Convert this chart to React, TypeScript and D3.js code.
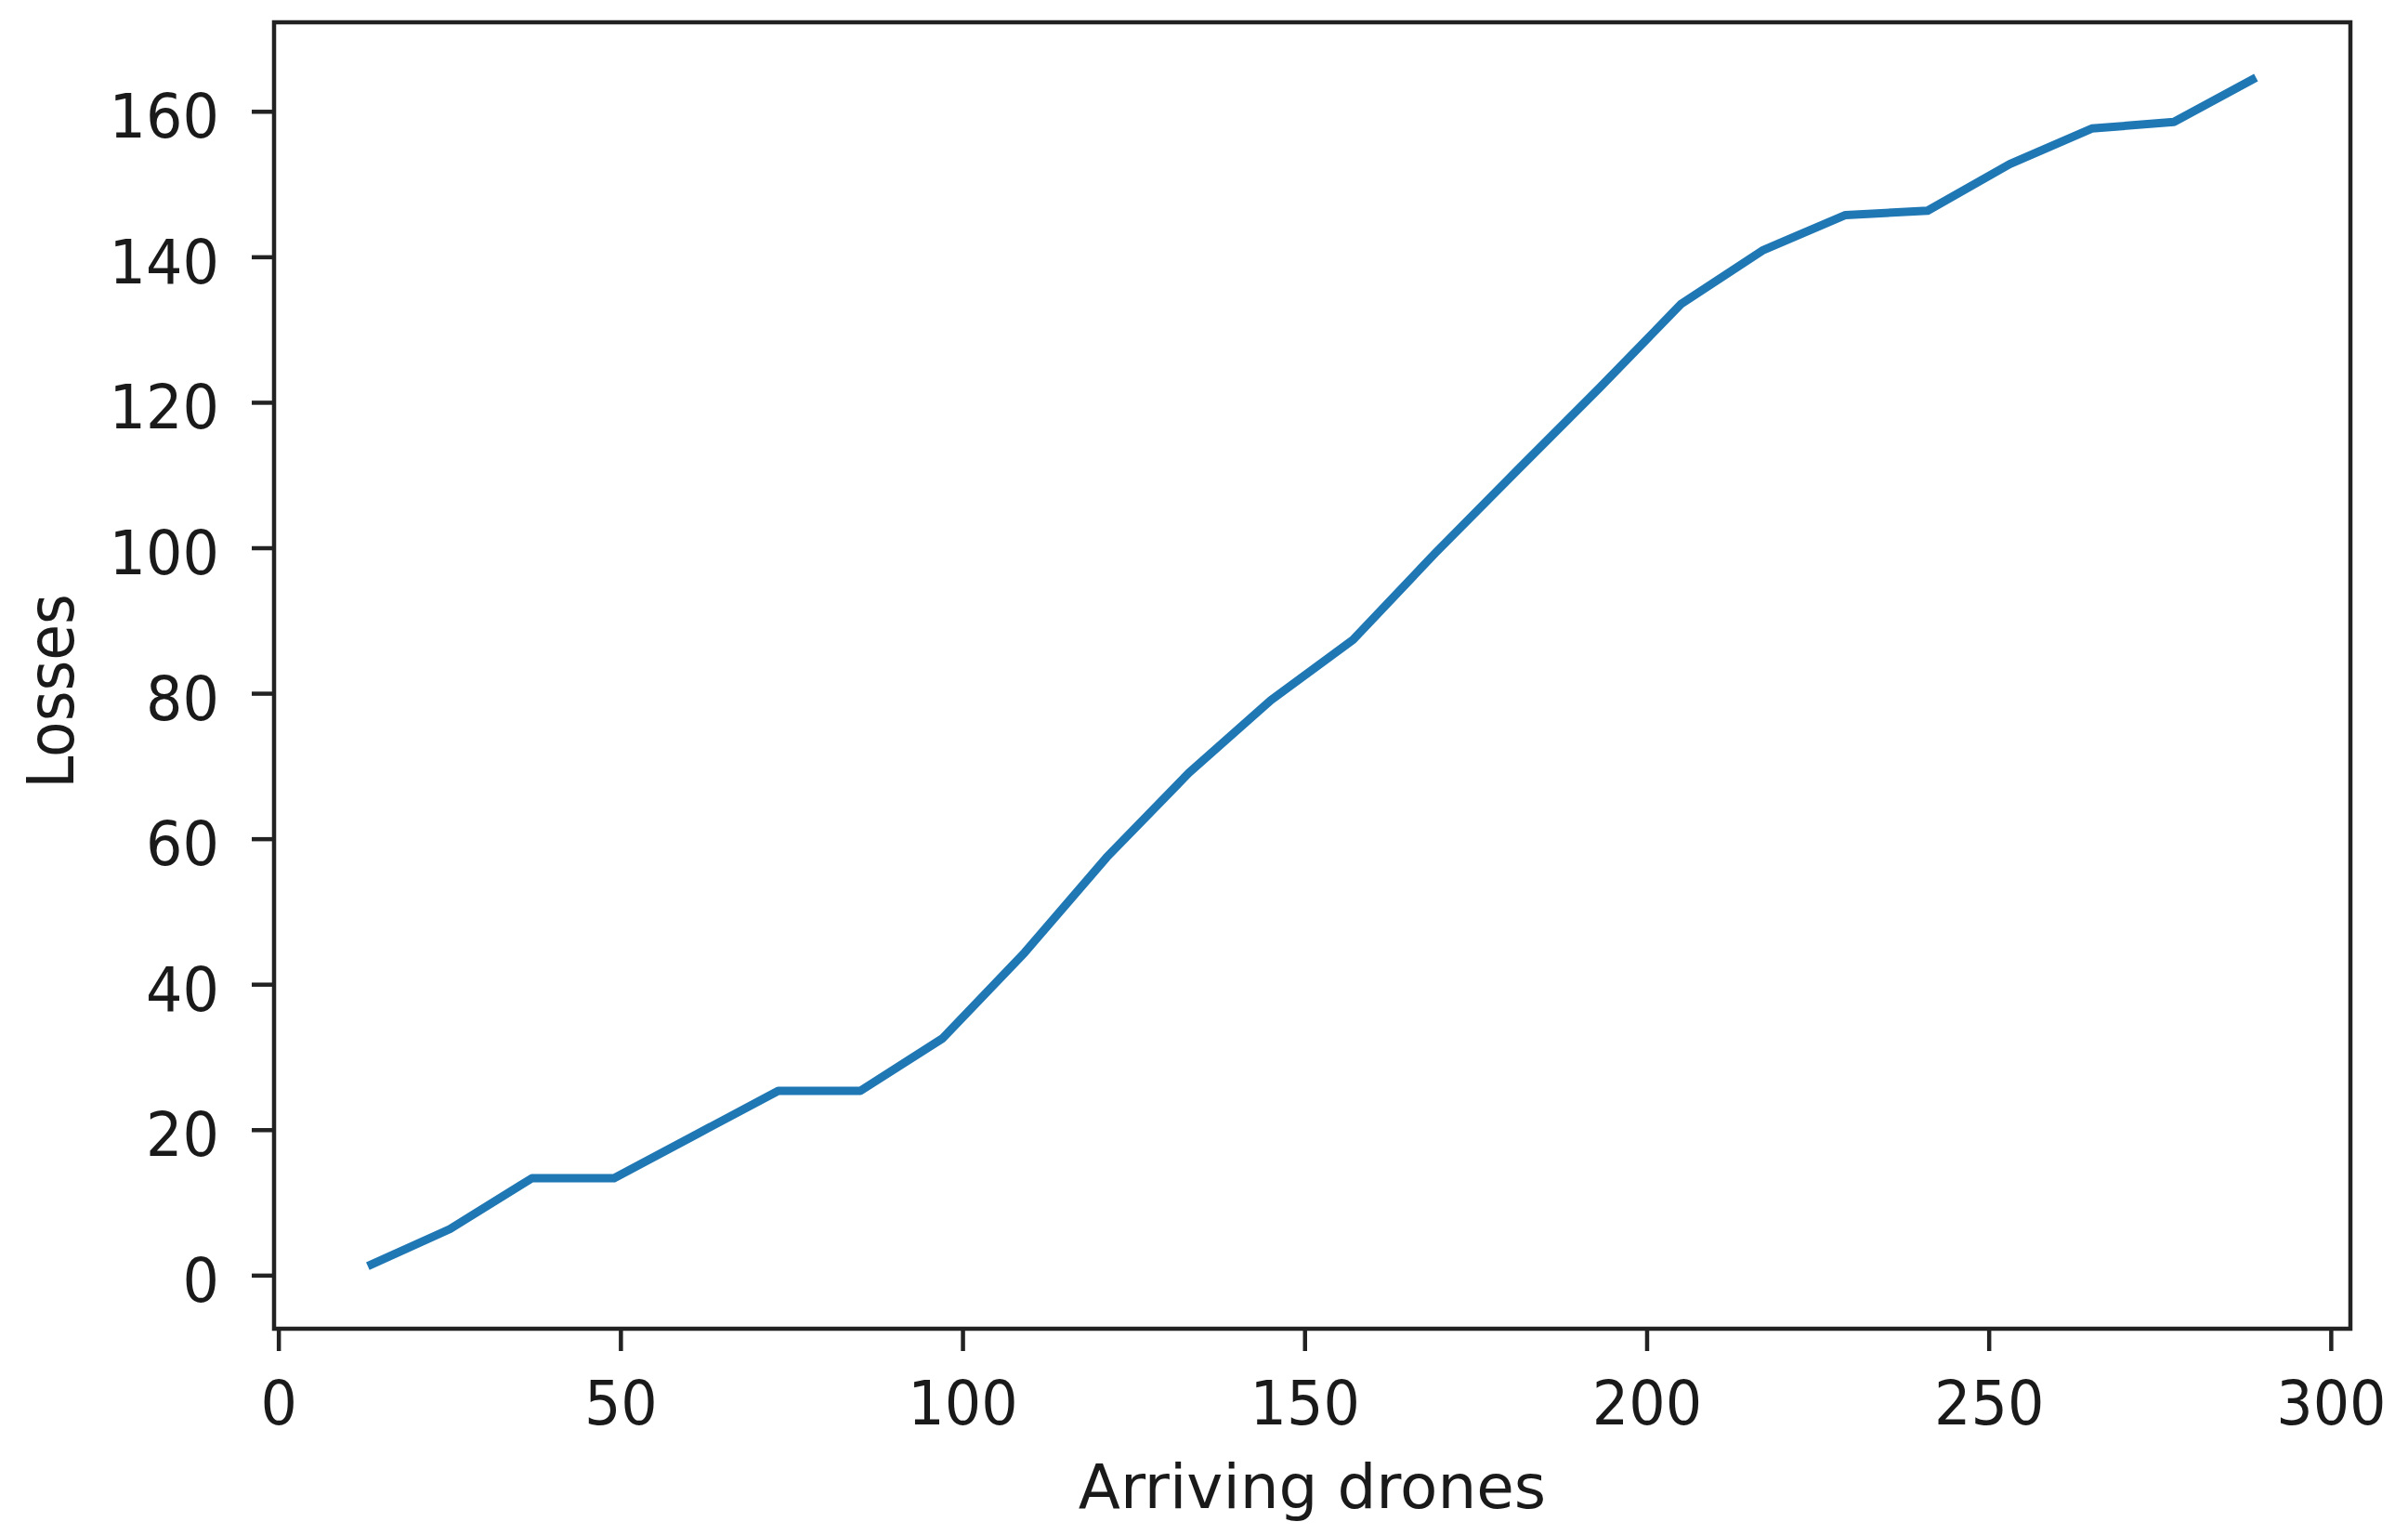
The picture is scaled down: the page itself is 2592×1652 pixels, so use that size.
import React from "react";
import * as d3 from "d3";

// Data
const arrivingDrones = [13, 25, 37, 49, 61, 73, 85, 97, 109, 121, 133, 145, 157, 169, 181, 193, 205, 217, 229, 241, 253, 265, 277, 289];
const losses = [1.3, 6.4, 13.4, 13.4, 19.4, 25.4, 25.4, 32.6, 44.4, 57.5, 69.1, 79.1, 87.4, 99.3, 110.7, 122, 133.6, 141, 145.8, 146.4, 152.8, 157.7, 158.6, 164.7];
const xTicks = [0, 50, 100, 150, 200, 250, 300];
const yTicks = [0, 20, 40, 60, 80, 100, 120, 140, 160];
const xDomain = [-0.7, 302.8];
const yDomain = [-7.3, 172.3];
const xLabel = "Arriving drones";
const yLabel = "Losses";

const W = 2592;
const H = 1652;
const plot = { left: 295, right: 2530, top: 24, bottom: 1430 };
const FONT = "'DejaVu Sans', sans-serif";
const TEXT = "#1a1a1a";
const FRAME = "#222222";
const LINE = "#1f77b4";

export default function App() {
  const x = d3.scaleLinear().domain(xDomain).range([plot.left, plot.right]);
  const y = d3.scaleLinear().domain(yDomain).range([plot.bottom, plot.top]);
  const pts = arrivingDrones.map((d, i) => [d, losses[i]] as [number, number]);
  const path = d3
    .line<[number, number]>()
    .x((d) => x(d[0]))
    .y((d) => y(d[1]))(pts) as string;

  const tickLen = 24;
  const fs = 66;

  return (
    <svg
      width={W}
      height={H}
      viewBox={`0 0 ${W} ${H}`}
      style={{ position: "absolute", left: 0, top: 0, background: "#fff" }}
    >
      <rect x={0} y={0} width={W} height={H} fill="#fff" />
      <path d={path} fill="none" stroke={LINE} strokeWidth={9} strokeLinejoin="round" strokeLinecap="butt" />
      <rect
        x={plot.left}
        y={plot.top}
        width={plot.right - plot.left}
        height={plot.bottom - plot.top}
        fill="none"
        stroke={FRAME}
        strokeWidth={4.5}
      />
      {xTicks.map((t) => (
        <g key={"x" + t}>
          <line x1={x(t)} x2={x(t)} y1={plot.bottom} y2={plot.bottom + tickLen} stroke={FRAME} strokeWidth={4.5} />
          <text
            transform={`translate(${x(t)},${1533}) scale(0.94,1)`}
            textAnchor="middle"
            fontFamily={FONT}
            fontSize={fs}
            fill={TEXT}
          >
            {t}
          </text>
        </g>
      ))}
      {yTicks.map((t) => (
        <g key={"y" + t}>
          <line x1={plot.left - tickLen} x2={plot.left} y1={y(t)} y2={y(t)} stroke={FRAME} strokeWidth={4.5} />
          <text
            transform={`translate(${236},${y(t) + 28}) scale(0.94,1)`}
            textAnchor="end"
            fontFamily={FONT}
            fontSize={fs}
            fill={TEXT}
          >
            {t}
          </text>
        </g>
      ))}
      <text
        x={(plot.left + plot.right) / 2}
        y={1623}
        textAnchor="middle"
        fontFamily={FONT}
        fontSize={66}
        fill={TEXT}
      >
        {xLabel}
      </text>
      <text
        transform={`translate(${79},${744}) rotate(-90) scale(0.9,1)`}
        textAnchor="middle"
        fontFamily={FONT}
        fontSize={70}
        fill={TEXT}
      >
        {yLabel}
      </text>
    </svg>
  );
}
